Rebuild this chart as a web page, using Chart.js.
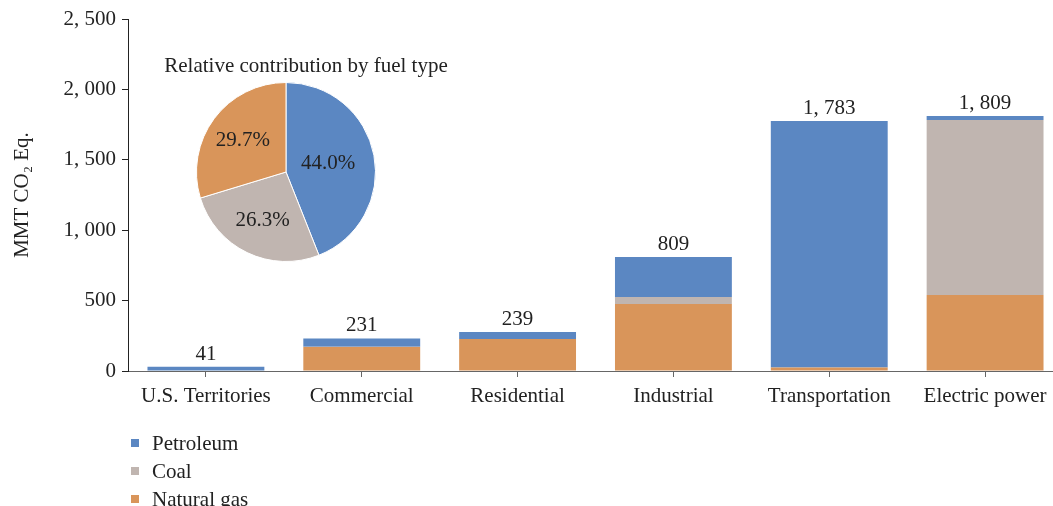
<!DOCTYPE html>
<html>
<head>
<meta charset="utf-8">
<script src="https://cdn.jsdelivr.net/npm/chart.js@4/dist/chart.umd.min.js"></script>
<style>
  html, body { margin: 0; padding: 0; background: #fff; overflow: hidden; width: 1053px; height: 506px; }
  #wrap { position: relative; width: 1053px; height: 506px; overflow: hidden; }
  #main { position: absolute; left: 0; top: 0; }
  #pie { position: absolute; left: 196px; top: 82px; }
  #pieTitle { position: absolute; left: 156px; top: 52px; width: 300px; text-align: center;
    font-family: 'Liberation Serif', serif; font-size: 21px; color: #222; line-height: 26px; white-space: nowrap; }
  #legend { position: absolute; left: 131px; top: 429px; font-family: 'Liberation Serif', serif; font-size: 21px; color: #222; }
  .li { height: 28px; line-height: 28px; position: relative; padding-left: 21px; white-space: nowrap; }
  .li span.box { position: absolute; left: 0; top: 10px; width: 8px; height: 8px; }
</style>
</head>
<body>
<div id="wrap">
  <canvas id="main" width="1064" height="506"></canvas>
  <div id="pieTitle"></div>
  <canvas id="pie" width="180" height="180"></canvas>
  <div id="legend"></div>
</div>
<script>
// ---- data ----
const categories = ['U.S. Territories', 'Commercial', 'Residential', 'Industrial', 'Transportation', 'Electric power'];
const naturalGas = [0, 170, 227, 476, 24, 540];
const coal = [0, 2, 0, 50, 0, 1243];
const petroleum = [30, 59, 50, 284, 1752, 28];
const totalLabels = ['41', '231', '239', '809', '1, 783', '1, 809'];
const yTicks = [0, 500, 1000, 1500, 2000, 2500];
const pieLabels = ['Petroleum', 'Coal', 'Natural gas'];
const pieValues = [44.0, 26.3, 29.7];
const pieTitleText = 'Relative contribution by fuel type';
const yTitle = 'MMT CO\u2082 Eq.';

// ---- styles ----
const COLORS = { 'Petroleum': '#5b87c2', 'Coal': '#c0b5b0', 'Natural gas': '#d9955a' };
const PIE_LABEL_R = [0.48, 0.6, 0.6];
const FONT = 'Liberation Serif';
const FS = 21;
const TXT = '#222';

function fmt(v) {
  if (v >= 1000) return Math.floor(v / 1000) + ', ' + String(v % 1000).padStart(3, '0');
  return String(v);
}

const totalsPlugin = {
  id: 'totals',
  afterDatasetsDraw(chart) {
    const ctx = chart.ctx;
    ctx.save();
    ctx.font = FS + 'px "' + FONT + '"';
    ctx.fillStyle = TXT;
    ctx.textAlign = 'center';
    ctx.textBaseline = 'alphabetic';
    const n = chart.data.datasets.length;
    categories.forEach((c, i) => {
      let top = Infinity, x = 0;
      for (let d = 0; d < n; d++) {
        const el = chart.getDatasetMeta(d).data[i];
        if (el.y < top) { top = el.y; x = el.x; }
      }
      ctx.fillText(totalLabels[i], x, top - 7);
    });
    ctx.restore();
  }
};

new Chart(document.getElementById('main'), {
  type: 'bar',
  data: {
    labels: categories,
    datasets: [
      { label: 'Natural gas', data: naturalGas, backgroundColor: COLORS['Natural gas'] },
      { label: 'Coal', data: coal, backgroundColor: COLORS['Coal'] },
      { label: 'Petroleum', data: petroleum, backgroundColor: COLORS['Petroleum'] }
    ]
  },
  options: {
    responsive: false,
    devicePixelRatio: 1,
    animation: false,
    layout: { padding: { left: 0, top: 19, right: 1, bottom: 0 } },
    datasets: { bar: { categoryPercentage: 1, barPercentage: 0.75, borderWidth: 0 } },
    plugins: { legend: { display: false }, tooltip: { enabled: false } },
    scales: {
      x: {
        stacked: true,
        offset: true,
        grid: { display: true, drawOnChartArea: false, drawTicks: true, tickLength: 6, color: '#666', offset: false },
        border: { display: true, color: '#666', width: 1 },
        ticks: { font: { family: FONT, size: FS }, color: TXT, padding: 7, maxRotation: 0, autoSkip: false },
        afterFit(s) { s.height = 135; }
      },
      y: {
        stacked: true,
        min: 0, max: 2500,
        afterBuildTicks(s) { s.ticks = yTicks.map(v => ({ value: v })); },
        grid: { display: true, drawOnChartArea: false, drawTicks: true, tickLength: 6, color: '#222' },
        border: { display: true, color: '#222', width: 1 },
        ticks: { font: { family: FONT, size: FS }, color: TXT, padding: 6, callback: v => fmt(v) },
        title: { display: true, text: yTitle, font: { family: FONT, size: FS }, color: TXT, padding: { top: 10, bottom: 0 } },
        afterFit(s) { s.width = 128; }
      }
    }
  },
  plugins: [totalsPlugin]
});

const pieLabelPlugin = {
  id: 'pieLabels',
  afterDatasetsDraw(chart) {
    const ctx = chart.ctx;
    ctx.save();
    ctx.font = FS + 'px "' + FONT + '"';
    ctx.fillStyle = TXT;
    ctx.textAlign = 'center';
    ctx.textBaseline = 'middle';
    chart.getDatasetMeta(0).data.forEach((arc, i) => {
      const p = arc.getProps(['x', 'y', 'startAngle', 'endAngle', 'outerRadius'], true);
      const mid = (p.startAngle + p.endAngle) / 2;
      const r = p.outerRadius * PIE_LABEL_R[i];
      ctx.fillText(pieValues[i].toFixed(1) + '%', p.x + Math.cos(mid) * r, p.y + Math.sin(mid) * r);
    });
    ctx.restore();
  }
};

new Chart(document.getElementById('pie'), {
  type: 'pie',
  data: {
    labels: pieLabels,
    datasets: [{ data: pieValues, backgroundColor: pieLabels.map(l => COLORS[l]), borderColor: '#fff', borderWidth: 1 }]
  },
  options: {
    responsive: false,
    devicePixelRatio: 1,
    animation: false,
    layout: { padding: 0 },
    plugins: { legend: { display: false }, tooltip: { enabled: false } }
  },
  plugins: [pieLabelPlugin]
});

document.getElementById('pieTitle').textContent = pieTitleText;
const lg = document.getElementById('legend');
['Petroleum', 'Coal', 'Natural gas'].forEach(name => {
  const d = document.createElement('div');
  d.className = 'li';
  const b = document.createElement('span');
  b.className = 'box';
  b.style.background = COLORS[name];
  d.appendChild(b);
  d.appendChild(document.createTextNode(name));
  lg.appendChild(d);
});
</script>
</body>
</html>
